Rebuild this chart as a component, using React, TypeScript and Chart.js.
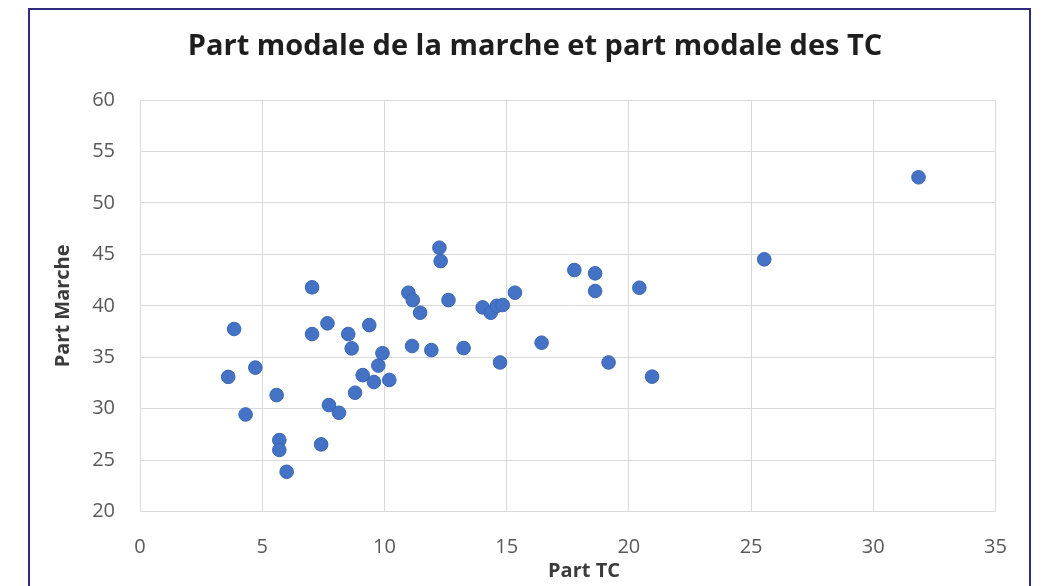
import React, { useEffect, useRef } from 'react';
import { Chart, registerables } from 'chart.js';

Chart.register(...registerables);

const chartTitle = 'Part modale de la marche et part modale des TC';
const xAxisTitle = 'Part TC';
const yAxisTitle = 'Part Marche';

const partTC = [
  3.61, 3.85, 4.32, 4.72, 5.59, 5.7, 5.7, 6.0, 7.04, 7.04, 7.41, 7.67, 7.73, 8.14,
  8.52, 8.66, 8.8, 9.11, 9.38, 9.57, 9.75, 9.92, 10.2, 10.98, 11.16, 11.46, 11.13,
  11.92, 12.25, 12.3, 12.62, 13.24, 14.02, 14.35, 14.6, 14.84, 14.73, 15.34, 16.43,
  17.77, 18.62, 18.62, 19.17, 20.43, 20.95, 25.54, 31.85,
];
const partMarche = [
  33.1, 37.75, 29.45, 34.0, 31.33, 26.96, 26.0, 23.88, 41.8, 37.26, 26.54, 38.3, 30.36, 29.61,
  37.26, 35.87, 31.56, 33.27, 38.13, 32.6, 34.2, 35.4, 32.8, 41.28, 40.56, 39.33, 36.1,
  35.7, 45.65, 44.35, 40.56, 35.9, 39.85, 39.33, 40.0, 40.08, 34.5, 41.28, 36.42,
  43.48, 43.16, 41.44, 34.5, 41.76, 33.12, 44.52, 52.49,
];
const xRange = [0, 35];
const yRange = [20, 60];
const tickStep = 5;

const FONT = "'Open Sans', 'DejaVu Sans', sans-serif";

const decor = {
  id: 'decor',
  beforeDraw(chart: any) {
    const ctx = chart.ctx;
    ctx.save();
    ctx.fillStyle = '#ffffff';
    ctx.fillRect(0, 0, chart.width, chart.height);
    ctx.restore();
  },
  afterDraw(chart: any) {
    const ctx = chart.ctx;
    ctx.save();
    ctx.strokeStyle = '#2f2c80';
    ctx.lineWidth = 2;
    ctx.strokeRect(29, 9, 1001, 700);
    ctx.fillStyle = '#1e1e1e';
    ctx.font = `bold 29px ${FONT}`;
    ctx.textAlign = 'center';
    ctx.textBaseline = 'middle';
    ctx.fillText(chartTitle, 535, 47);
    ctx.fillStyle = '#3b3b3b';
    ctx.font = `bold 20px ${FONT}`;
    ctx.fillText(xAxisTitle, 584, 571);
    ctx.restore();
  },
};

export default function App() {
  const ref = useRef<HTMLCanvasElement | null>(null);
  useEffect(() => {
    if (!ref.current) return;
    const data = partTC.map((x, i) => ({ x, y: partMarche[i] }));
    const chart = new Chart(ref.current, {
      type: 'scatter',
      data: {
        datasets: [
          {
            label: yAxisTitle,
            data,
            backgroundColor: '#4472C4',
            borderColor: '#3c66b4',
            borderWidth: 1,
            pointRadius: 6.8,
          },
        ],
      },
      options: {
        animation: false,
        responsive: false,
        devicePixelRatio: 1,
        layout: { padding: { top: 100, right: 45.5, bottom: 0, left: 0 } },
        plugins: {
          legend: { display: false },
          title: { display: false },
          tooltip: { enabled: false },
        },
        scales: {
          x: {
            type: 'linear',
            min: xRange[0],
            max: xRange[1],
            ticks: {
              stepSize: tickStep,
              padding: 24,
              color: '#595959',
              font: { family: FONT, size: 20 },
            },
            grid: { color: '#d9d9d9', drawTicks: false, lineWidth: 1 },
            border: { color: '#d9d9d9' },
            afterFit: (s: any) => {
              s.height = 74.3;
            },
          },
          y: {
            type: 'linear',
            min: yRange[0],
            max: yRange[1],
            ticks: {
              stepSize: tickStep,
              padding: 25,
              color: '#595959',
              font: { family: FONT, size: 20 },
            },
            grid: { color: '#d9d9d9', drawTicks: false, lineWidth: 1 },
            border: { color: '#d9d9d9' },
            title: {
              display: true,
              text: yAxisTitle,
              color: '#3b3b3b',
              font: { family: FONT, size: 20, weight: 'bold' },
              padding: { top: 51, bottom: 0 },
            },
            afterFit: (s: any) => {
              s.width = 140;
            },
          },
        },
      },
      plugins: [decor],
    });
    return () => chart.destroy();
  }, []);
  return (
    <div style={{ position: 'fixed', left: 0, top: 0, width: 1041, height: 586, overflow: 'hidden' }}>
      <canvas ref={ref} width={1041} height={586} style={{ width: 1041, height: 586, display: 'block' }} />
    </div>
  );
}
